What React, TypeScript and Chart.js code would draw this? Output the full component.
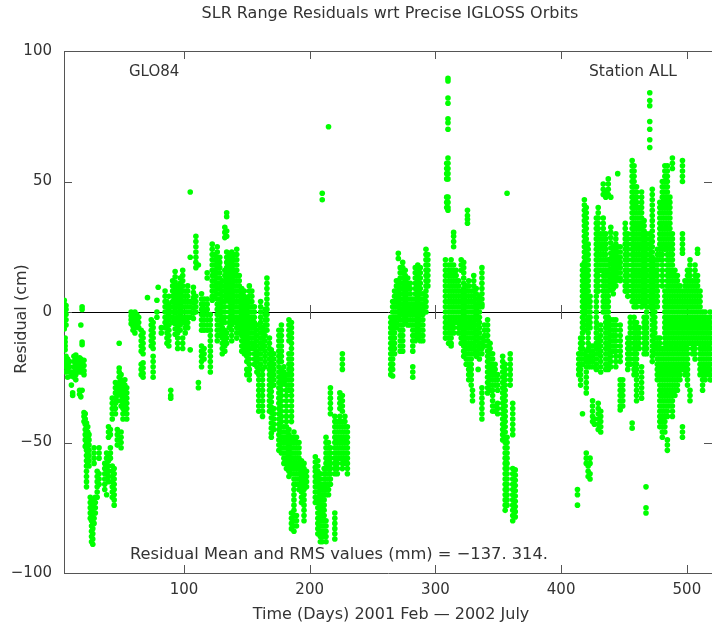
import React, { useEffect, useRef } from "react";
import { Chart, registerables } from "chart.js";

Chart.register(...registerables);

type Pass = [number, number[]];

const TITLE = "SLR Range Residuals wrt Precise IGLOSS Orbits";
const X_TITLE = "Time (Days) 2001 Feb \u2014 2002 July";
const Y_TITLE = "Residual (cm)";
const SAT_LABEL = "GLO84";
const STATION_LABEL = "Station ALL";
const STATS_LABEL = "Residual Mean and RMS values (mm) = \u2212137. 314.";

const X_MIN = 4.6;
const X_MAX = 520;
const Y_MIN = -100;
const Y_MAX = 100;
const X_TICKS = [100, 200, 300, 400, 500];
const Y_TICKS = [-100, -50, 0, 50, 100];

// Passes: [day, residuals (cm)]
const passesEarly2001: Pass[] = [
  [4.8, [4.5, 3, 1.5, 0, -1.5, -3, -4.5, -6.5]],
  [5.5, [-10, -11.5, -13, -14.5, -18, -19.5]],
  [6.2, [2.5, 1, -1, -3, -5, -17, -19, -21, -23]],
  [7.5, [-18, -20, -22.5, -25]],
  [9, [-19, -21, -23]],
  [10.5, [-23, -24.5, -28]],
  [11.5, [-31, -32]],
  [12.5, [-17, -19, -21, -23, -25]],
  [14, [-16.5, -18.5, -20.5, -22, -24, -26]],
  [15.5, [-18, -20, -22]],
  [17, [-17.5, -19.5, -21.5, -23, -30, -31.5]],
  [18, [-5, -18, -20, -22, -32.5]],
  [19, [2, 1, -11.5, -12.5, -19, -21, -23, -30]],
  [20.5, [-18.5, -20.5, -22.5, -24, -38.5, -40, -42]],
  [21.5, [-39, -41, -43, -45, -47, -49, -51.5]],
  [22.5, [-42.5, -44.5, -46.5, -48.5, -50.5, -53, -55, -57, -59, -61, -63, -65, -67]],
  [23.5, [-44, -46, -48, -50, -52, -54, -56, -58]],
  [24.5, [-47, -49, -51, -53, -55, -57, -59]],
  [25.5, [-71, -73, -75, -77, -79]],
  [26.5, [-72, -74, -76, -78, -80, -82, -84, -86, -88]],
  [27.5, [-75, -77, -79, -81, -83, -85, -87, -89]],
  [28.5, [-52, -54, -56, -58, -73, -75, -77, -79, -81]],
  [29.5, [-71, -73, -75, -77]],
  [31, [-61, -63, -65, -67, -69, -71]],
  [32.5, [-52, -54, -56, -62, -64, -66]],
  [37, [-58, -60, -62, -64, -66, -68]],
  [38.5, [-54, -56, -58, -60, -62, -70]],
  [40, [-44, -46, -48, -55, -57, -59, -61, -63, -65]],
  [41.5, [-45, -47, -52, -54, -56]],
  [43, [-33, -35, -37, -39, -41, -59, -61, -63, -65, -67, -69, -71]],
  [44.5, [-60, -62, -64, -66, -68, -70, -72, -74]],
  [45.5, [-27, -29, -31, -33, -35, -37, -39]],
  [47, [-28, -30, -32, -34, -45, -47, -49, -51]],
  [48.5, [-12, -21.5, -23, -25, -27, -29, -31]],
  [50, [-24, -26, -28, -30, -32, -34, -36, -46, -48, -50, -52]],
  [51.5, [-27, -29, -31, -33, -35, -37, -39, -41]],
  [53, [-26, -28, -30, -32, -34, -36, -38]],
  [54.5, [-29, -31, -33, -35, -37, -39, -41]],
];

const passesMid2001: Pass[] = [
  [58, [0, -1.5, -3, -4.5]],
  [59.5, [-1, -2.5, -4, -5.5, -7]],
  [61, [0, -2, -4, -6, -8]],
  [62.5, [-1, -3, -5]],
  [64, [-2, -4, -6]],
  [66, [-7, -9, -11, -13, -15, -20, -22, -24]],
  [67.5, [-8, -10, -12, -14, -16, -19.5, -21.5, -23.5, -25]],
  [71, [5.5]],
  [74, [-3, -5, -7, -9, -11, -13]],
  [75.5, [-4, -6, -8, -10, -12, -14, -17, -19, -21, -23, -25]],
  [78.5, [4.5, 0, -2]],
  [79.5, [9.5]],
  [82, [-6, -8]],
  [85, [8, 6, 4, 2, 0, -2, -4, -6]],
  [86.5, [4, 2, 0, -2, -4, -6, -8, -10, -12]],
  [88, [6, 3, 1, -1, -3, -5, -7, -9, -11, -13]],
  [89.5, [-30, -32, -33]],
  [91, [12, 10, 8, 6, 4, 2, 0, -2, -4]],
  [93, [15.5, 13.5, 11.5, 9.5, 7.5, 5.5, 3.5, 1.5, -0.5, -2.5, -4.5, -6.5, -8.5]],
  [95, [10, 8, 6, 4, 2, 0, -2, -4, -6, -8, -10, -12, -14]],
  [97, [13, 11, 9, 7, 5, 3, 1, -1, -3, -5, -7]],
  [99, [16, 14, 12, 10, 8, 6, 4, 2, 0, -2, -4, -10, -12, -14]],
  [101, [8, 6, 4, 2, 0, -2, -4, -6, -8]],
  [103, [10, 8, 6, 4, 2, 0, -2, -4, -6]],
  [105, [46, 21, 4, 2, 0, -2, -14.5]],
  [107.5, [9.5, 7.5, 5.5, 3.5, 1.5, -0.5, -2.5]],
  [109.5, [29, 27, 25, 23, 21, 19, 17, 6, 4, 2, 0]],
  [111.5, [18, -27, -29]],
  [114, [7, 5, 3, 1, -1, -3, -5, -7, -13, -15, -17, -19, -21]],
  [116, [5, 3, 1, -1, -3, -5, -7, -14, -16, -18]],
  [118.5, [15, 13, 5, 3, 1, -1, -3, -5, -7]],
  [121, [-1, -3, -5, -7, -9, -11, -13, -15, -17, -19, -21, -23]],
  [122.5, [26, 24, 22, 20, 18, 16, 14, 12, 10, 8, 6, 4.5]],
  [124.5, [22, 20, 18, 16, 14, 12, 10, 8, 6]],
  [126.5, [25, 23, 21, 19, 17, 15, 13, 11, 9, 7, 5, 3, 1, -1, -3, -5, -7, -9, -11]],
  [128.5, [21, 19, 17, 15, 13, 11, 9, 7, 5, 3, 1, -1, -3, -5, -7, -9]],
  [130.5, [12, 10, 8, 6, 4, 2, 0, -2, -4, -6, -8, -10, -12, -14, -16]],
  [132.5, [32.5, 30.5, 28.5, 16, 14, 12, 10, 8, 6, 4, 2, 0, -2, -4, -7, -9, -11, -13, -15]],
  [134, [38, 36.5, 31, 29, 23, 21, 19, 17, 15, 13, 11, 9, 7, 5, -8, -10, -12]],
  [136, [22, 20, 18, 16, 14, 12, 10, 8, 6, 4, 2, 0, -2, -4, -6]],
  [138, [23, 21, 19, 17, 15, 13, 11, 9, 7, 5, 3, 1, -1, -3, -5, -7, -9, -11]],
  [140, [22, 20, 18, 16, 14, 12, 10, 8, 6, 4, 2, 0, -2, -4]],
  [142, [24, 22, 20, 18, 16, 14, 12, 10, 8, 6, 4, 2, 0, -2, -4, -6, -8, -10]],
  [144, [14, 12, 10, 8, 6, 4, 2, 0, -2, -4, -6, -8]],
  [146, [9, 7, 5, 3, 1, -1, -3, -5, -7, -9, -11, -13, -15]],
  [148, [8, 6, 4, 2, 0, -2, -4, -6, -8, -10, -12, -14, -16]],
  [150, [5, 3, 1, -1, -3, -5, -7, -9, -11, -13, -15, -17, -19, -22, -24]],
  [152, [10, 8, 6, 4, 2, 0, -2, -4, -6, -8, -10, -12, -14, -16, -18, -20, -22, -24, -26]],
  [154, [8, 6, 4, 2, 0, -2, -4, -6, -8, -10, -12, -14]],
  [156, [2, 0, -2, -4, -6, -8, -10, -12, -14, -16, -18, -20]],
  [158, [-5, -7, -9, -11, -13, -15, -17, -19, -21, -23]],
  [159.5, [-22, -24, -26, -28, -30, -32, -34, -36, -38]],
  [161, [4, 2, 0, -2, -4, -6, -8, -10, -12, -14, -16, -18, -20]],
  [162.5, [-6, -8, -10, -12, -14, -22, -24, -26, -28, -30, -32, -34, -36, -38, -40]],
  [164.5, [1, -1, -3, -5, -7, -9, -11, -13, -15, -17, -19, -21]],
  [166, [13, 11, 9, 7, 5, 3, 1, -1, -3, -5, -7]],
  [168, [-10, -12, -14, -16, -18, -20, -22, -24, -26, -28, -30, -32, -34, -36, -38]],
  [169.5, [-14.5, -16.5, -18.5, -20.5, -22.5, -24.5, -26.5, -28.5, -30.5, -32.5, -34.5, -36.5, -38.5, -40.5, -42.5, -44.5, -46.5, -48]],
  [171.5, [-16, -18, -20, -22, -24, -26, -28, -37, -39, -41, -43, -45]],
];

const passesLate2001: Pass[] = [
  [175.5, [-7, -9, -11, -13, -15, -17, -19, -21, -23, -25, -27, -29, -31, -33, -35, -37, -39, -41, -43, -45, -47, -49, -51, -53]],
  [177.5, [-5, -7, -9, -11, -13, -15, -17, -19, -22, -24, -26, -28, -30, -32, -34, -36, -38, -40, -42, -44, -46, -48, -50, -52, -54]],
  [179.5, [-21, -23, -25, -27, -44, -46, -48, -50, -52, -54, -56, -58]],
  [181.5, [-24, -26, -28, -30, -32, -34, -36, -38, -40, -42, -44, -46, -48, -50, -52, -54, -56, -58, -60]],
  [183.5, [-3, -5, -7, -9, -11, -16, -18, -20, -22, -24, -26, -28, -30, -45, -47, -49, -51, -53, -55, -57, -59, -61, -63]],
  [185.5, [-4, -6, -8, -10, -12, -14, -16, -18, -20, -22, -24, -26, -28, -30, -32, -34, -36, -38, -40, -42, -48, -50, -52, -54, -56, -58, -60, -62, -77, -79, -81, -83]],
  [187.5, [-46, -48, -50, -52, -54, -56, -58, -60, -62, -64, -66, -68, -70, -72, -74, -76, -78, -80, -82, -84]],
  [189.5, [-48, -50, -52, -54, -56, -58, -60, -62, -64, -66, -78, -80, -82]],
  [191.5, [-50, -52, -54, -56, -58, -60, -62, -64, -66, -68]],
  [193.5, [-57, -59, -61, -63, -65, -67, -69, -71, -73]],
  [195.5, [-58, -60, -62, -64, -66, -68, -70, -72, -74, -76, -78, -80]],
  [197.5, [-61, -63, -65, -67]],
  [204.5, [-55.5, -57.5, -59.5, -61, -63, -65, -67, -69, -71, -73]],
  [206.5, [-57, -59, -61, -63, -65, -67, -69, -71, -73, -75, -77, -79, -81, -83, -85]],
  [208.5, [-62, -64, -66, -68, -70, -72, -74, -76, -78, -80, -82, -84, -86, -88]],
  [210, [45.5, 43, -66, -68, -70, -72, -74, -76, -78, -80, -82, -84, -86, -88]],
  [211.5, [-60, -62, -64, -66, -68, -70, -72, -74, -76, -78, -80, -82, -84, -86]],
  [213, [-48, -50, -52, -54, -56, -58, -60, -62, -64, -66, -68, -70, -80, -82, -84, -86, -88]],
  [215, [71, -50, -52, -54, -56, -58, -60, -62, -64, -66, -68, -70]],
  [216.5, [-29, -31, -33, -35, -37, -39, -52, -54, -56, -58, -60, -62, -64, -66]],
  [220, [-40, -42, -44, -46, -48, -50, -52, -54, -56, -58, -60, -62, -77, -79, -81, -83, -85, -87]],
  [222, [-42, -44, -46, -48, -50, -52, -54, -56, -58, -60, -62]],
  [224, [-31, -33, -35, -37, -40, -42, -44, -46, -48, -50, -52, -54, -56]],
  [226, [-16, -18, -20, -22, -32, -34, -36, -38, -42, -44, -46, -48, -50, -52, -54, -56, -58, -60]],
  [228, [-40, -42, -44, -46, -48, -50, -52, -54, -56, -58]],
  [230, [-44, -46, -48, -50, -52, -54, -56, -58, -60, -62]],
];

const passesEarly2002: Pass[] = [
  [264.5, [-2, -4, -6, -8, -10, -12, -14, -16, -18, -20, -22, -24]],
  [266, [4, 2, 0, -2, -4, -6, -8, -10, -12, -14, -16, -18, -20, -22, -24.5]],
  [267.5, [8, 6, 4, 2, 0, -2, -4, -6, -8, -10, -12, -14, -16]],
  [269, [12, 10, 8, 6, 4, 2, 0, -2, -4, -6]],
  [270.5, [22.5, 20.5, 12, 10, 8, 6, 4, 2, 0, -2]],
  [272, [17, 15, 13, 11, 9, 7, 5, 3, 1, -1, -3, -5, -7, -9, -11, -13, -15]],
  [274, [19, 17, 15, 13, 11, 9, 7, 5, 3, 1, -1, -3, -5, -7, -9, -11, -13, -15]],
  [276, [16, 14, 12, 10, 8, 6, 4, 2, 0, -2, -4]],
  [278, [13, 11, 9, 7, 5, 3, 1, -1, -3, -5]],
  [280, [11, 9, 7, 5, 3, 1, -1, -3, -5]],
  [282, [5, 3, 1, -1, -3, -5, -7, -9, -11, -13, -15, -21, -23, -25]],
  [284, [17, 15, 13, 11, 9, 7, 5, 3, 1, -1, -3, -5, -7, -9, -11]],
  [286, [18, 16, 14, 12, 10, 8, 6, 4, 2, 0, -2, -4, -6, -8, -10]],
  [288, [17, 15, 13, 11, 9, 7, 5, 3, 1, -1, -3, -5, -7, -9, -11]],
  [290, [7, 5, 3, 1, -1, -3, -5, -7, -9, -11]],
  [292.5, [24, 22, 20, 18, 16, 14, 12, 10, 8, 6, 4, 2, 0]],
  [294, [22, 20, 18, 16, 14, 12, 10]],
  [308, [20, 18, 16, 14, 12, 10, 8, 6, 4, 2, 0, -2, -4, -6, -8, -10]],
  [309, [57, 55, 53, 51, 44, 42, 40]],
  [310, [89.5, 88.5, 82, 80, 74, 72.5, 70, 59, 57, 55, 53, 51, 44, 42, 40, 39]],
  [310.5, [18, 16, 14, 12, 10, 8, 6, 4, 2, 0, -2, -4, -6, -8, -10, -12]],
  [312.5, [20, 18, 16, 14, 12, 10, 8, 6, 4, 2, 0, -2, -4, -6, -8, -10, -12, -13]],
  [314.5, [30.5, 29, 27, 25, 18, 16, 14, 12, 10, 8, 6, 4, 2, 0, -2, -4, -6, -8]],
  [316.5, [16, 14, 12, 10, 8, 6, 4, 2, 0, -2, -4]],
  [318.5, [12, 10, 8, 6, 4, 2, 0, -2, -4, -6, -8]],
  [320.5, [20, 18, 16, 8, 6, 4, 2, 0, -2, -4, -6, -8, -10, -12]],
  [322.5, [19, 17, 15, 13, 11, 9, 7, 5, 3, 1, -1, -3, -5, -7, -9, -11, -13, -15, -17]],
  [324.5, [10, 8, 6, 4, 2, 0, -2, -4, -6, -8, -10, -12, -14, -16, -18, -20]],
  [325.5, [39, 37, 35.5, 34]],
  [326.5, [12, 10, 8, 6, 4, 2, 0, -2, -4, -6, -8, -10, -12, -14, -16, -18, -20, -22, -24, -26]],
  [328.5, [8, 6, 4, 2, 0, -2, -4, -6, -8, -10, -12, -14, -16, -18, -20, -22, -24, -26, -28]],
  [329.5, [-30, -32, -34]],
  [330.5, [14, 12, 10, 8, 6, 4, 2, 0, -2, -4, -6, -8, -10, -12, -14, -16]],
  [332.5, [9, 7, 5, 3, 1, -1, -3, -5, -7, -9, -11, -13, -15, -17]],
  [334, [-22]],
  [335, [6, 4, 2, 0, -2, -4, -6, -8, -10, -12, -14, -16, -18]],
  [337, [17, 15, 13, 11, 9, 7, 5, 3, 2, -10, -12, -14, -16, -29, -31, -33, -35, -37, -39, -41]],
  [339, [-5, -7, -9, -11, -13]],
  [341.5, [-3, -5, -7, -9, -11, -13, -15, -17, -19, -21, -23, -25, -27, -29, -31]],
  [343.5, [-12, -14, -16, -18, -20, -22, -24, -26, -28, -30]],
  [345.5, [-16, -18, -20, -22, -24, -26, -28, -30, -32, -34, -36, -38]],
  [347.5, [-20, -22, -24, -26, -28, -36, -38]],
  [349.5, [-24, -26, -28, -30, -35, -37, -39]],
  [353.5, [-17, -19, -21, -23, -25, -27, -29, -31, -33, -35, -37, -39, -41, -43, -45, -47, -49]],
  [355.5, [-20, -22, -24, -26, -28, -30, -32, -34, -36, -38, -40, -42, -44, -46, -48, -50, -52, -54, -56, -58, -60, -62, -64, -66, -68, -70, -72, -74, -76]],
  [357, [45.5, -48, -50, -52, -54, -56, -58, -60, -62, -64, -66, -68, -70, -72, -74]],
  [359.5, [-16, -18, -20, -22, -24, -26, -28]],
  [361.5, [-35, -37, -39, -41, -43, -45, -47, -60, -62, -64, -66, -68, -70, -72, -74, -76, -78, -80]],
  [363.5, [-60.5, -62.5, -64.5, -66.5, -68.5, -70.5, -72.5, -74.5, -76.5, -78.5]],
];

const passesMid2002: Pass[] = [
  [413, [-68, -70, -74]],
  [414, [-16, -18, -20, -22, -24]],
  [415.5, [-10, -12, -14, -16, -18, -20, -22, -24, -26, -28]],
  [417, [18, 16, 14, 12, 10, 8, 6, 4, 2, 0, -2, -4, -6, -8, -10, -12, -14, -16, -18, -20, -39]],
  [418.5, [43, 41, 39, 37, 35, 33, 31, 29, 27, 25, 23, 21, 19, 17, 15, 13, 11, 9, 7, 5, 3, 1, -1, -3, -5, -7]],
  [420, [40, 38, 36, 34, 32, 30, 28, 26, 24, 22, 20, 18, 16, 14, 12, 10, 8, 6, 4, 2, -15, -17, -19, -21, -23, -25, -27, -29, -31, -54, -56, -58]],
  [421.5, [26, 24, 22, 20, 18, 16, 14, 12, 10, 8, 6, 4, 2, 0, -2, -4, -6, -8, -10, -12, -14, -17, -19, -21, -59, -61, -63]],
  [423, [6, 4, 2, 0, -2, -4, -6, -13, -15, -17, -19, -21, -56, -58, -62, -64]],
  [425, [-13, -15, -17, -19, -21, -34, -36, -38, -40, -42]],
  [426.5, [-41, -43]],
  [428, [36, 34, 32, 30, 28, 26, 24, 22, 20, 18, 16, 14, 12, 10, 8, 6, 4, 2, 0, -2, -4, -6, -8, -10, -12, -14, -16, -18, -20, -22]],
  [429.5, [40, 38, 36, 34, 32, 30, 28, 26, 24, 22, 20, 18, 16, 14, 12, 10, 8, -10, -12, -14, -16, -35, -37, -39, -41, -43, -45]],
  [431.5, [30, 28, 26, 24, 22, 20, 18, 16, -5, -7, -9, -11, -13, -15, -17, -19, -21, -23, -38, -40, -42, -44, -46]],
  [433.5, [49, 47, 45, 36, 34, 32, 30, 28, 26, 24, 22, 20, 18, 16, 14, 12, 10, 8, 6, 4, 2, 0]],
  [435.5, [46, 44, 30, 28, 26, 24, 22, 20, 18, 16, 14, 12, 10, 8, 6, 4, 2, 0, -2, -4, -6, -8, -10, -12, -14, -16, -18, -20, -22]],
  [437.5, [51, 49, 47, 45, 20, 18, 16, 14, 12, 10, 8, 6, 4, 2, 0, -2, -4, -6, -8, -10, -12, -14, -16, -18, -20, -22]],
  [439.5, [44, 32.5, 30.5, 28.5, 26.5, 24.5, 22.5, 20.5, 18.5, 16.5, 14.5, 12.5, 10.5, 8.5, -3, -5, -7, -9, -11, -13, -15, -17, -19, -21]],
  [441.5, [25, 23, 21, 19, 17, 15, 13, 11, 9, 7, -3, -5, -7, -9, -11, -13, -15]],
  [443.5, [30, 28, 26, 24, 22, 20, 18, 16, 14, 12, 10, -3, -5, -7, -9, -11, -13, -15, -17, -19, -21]],
  [445, [53, 25, 23, 21, 19, 17, 15, 13]],
  [447, [25, 23, 21, 19, 17, 15, 13, 12, -5, -7, -9, -11, -13, -15, -17, -19, -26, -28, -30, -32, -34, -36, -37.5]],
  [449, [-26, -28, -30, -32, -34, -36]],
  [451, [34, 32, 30, 28, 26, 24, 22, 20, 18, 16, 14, 12, 10, 8]],
  [453, [30, 28, 26, 24, 22, 20, 18, 16, 14, 12, 10, 8, 6, -10, -12, -14, -16, -18, -20, -22]],
  [455, [-2, -4, -6, -8, -10, -12, -14, -16, -18, -20]],
  [456.5, [58, 56, 54, 52, 50, 48, 46, 44, 42, 40, 38, 36, 34, 32, 30, 28, 26, 24, 22, 20, 18, 16, 14, 12, 10, 8, 6, 4, -42.5, -44.5]],
  [458, [56, 54, 52, 50, 48, 46, 44, 42, 40, 38, 36, 34, 32, 30, 28, 26, 24, 22, 20, 18, 16, 14, 12, 10, 8, 6, 4, 2, -2, -4, -6, -8, -10, -12, -14, -16, -18, -20, -22, -24]],
  [460, [48, 46, 44, 42, 40, 38, 36, 34, 32, 30, 28, 26, 24, 22, 20, 18, 16, 14, 12, 10, 8, 6, 4, 2, -4, -6, -8, -10, -12, -14, -16, -18, -20, -22, -24, -26, -28, -30, -32, -34]],
  [462, [40, 38, 36, 34, 32, 30, 28, 26, 24, 22, 20, 18, 16, 14, 12, 10, 8, 6, 4, -6, -8, -10, -12, -14]],
  [464, [46, 44, 42, 40, 38, 36, 34, 32, 30, 28, 26, 24, 22, 20, 18, 16, 14, 12, 10, 8, 6, 4, 2, -21, -23, -25, -27, -29, -31, -33]],
  [466, [35, 33, 31, 29, 27, 25, 23, 21, 19, 17, 15, 13, 11, 9, 7, 5, 3, -2, -4, -6, -8, -10, -12, -14, -16]],
  [467.5, [-67, -75, -77]],
  [468, [30, 28, 26, 24, 22, 20, 18, 16, 14, 12, 10, 8, 6, 4, 2, 0, -2, -4, -6, -8, -10, -12, -14, -16]],
  [470.5, [84, 81, 79, 73, 70, 66, 63, 30, 28, 26, 24, 22, 20, 18, 16, 14, 12, 10, 8, 6, 4, 2]],
  [472.5, [47, 45, 43, 41, 39, 37, 35, 33, 31, 29, 27, 25, 23, 21, 19, 17, 15, 13, 11, 9, 7, 5, 3, 1, -1, -3, -5, -7, -9, -11, -13, -15, -17, -19]],
  [474.5, [20, 18, 16, 14, 12, 10, 8, 6, 4, 2, 0, -2, -4, -6, -8, -10, -12, -14, -16]],
  [476.5, [24, 22, 20, 18, 16, 14, 12, 10, 8, 6, 4, 2, -10, -12, -14, -16, -18, -20, -22, -24, -26]],
  [478.5, [42, 40, 38, 36, 34, 32, 30, 28, 26, 24, 22, 20, -10, -12, -14, -16, -18, -20, -22, -24, -26, -28, -30, -32, -34, -36, -38, -40, -42, -44]],
  [480.5, [50, 48, 46, 44, 42, 40, 38, 36, 34, 32, 30, 28, 26, 24, 22, 20, 18, 16, 14, 12, 10, -14, -16, -18, -20, -22, -24, -26, -28, -30, -32, -34, -36, -38, -40, -42, -44, -46, -48]],
  [482.5, [56, 54, 52, 50, 48, 46, 44, 42, 40, 38, 36, 34, 32, 30, 28, 26, 24, 8, 6, 4, 2, 0, -2, -4, -6, -8, -10, -12, -14, -16, -18, -20, -22, -24, -26, -28, -30, -32, -34, -36, -38, -40, -42, -44, -46]],
  [484.5, [56, 54, 52, 50, 48, 46, 44, 42, 40, 38, 36, 34, 32, 30, 28, 26, 24, 22, 20, 18, 16, 14, 12, 10, 8, 6, 4, 2, 0, -2, -4, -6, -8, -10, -12, -14, -16, -18, -20, -22, -24, -26, -28, -30, -32, -34, -36, -38, -40, -49, -51, -53]],
  [486.5, [44, 42, 40, 38, 36, 34, 32, 30, 28, 26, 24, 22, 20, 18, 16, 14, 12, 10, 8, 6, 4, 2, 0, -2, -4, -6, -8, -10, -12, -14, -16, -18, -20, -22, -24, -26, -28, -30, -32, -34, -36]],
  [488.5, [59, 57, 55, 30, 28, 26, 24, 22, 20, 18, 16, 14, 12, 10, 8, 6, 4, 2, 0, -2, -4, -6, -8, -10, -12, -14, -16, -18, -20, -22, -24, -26, -28, -30, -32, -34, -36, -38, -40]],
  [490.5, [16, 14, 12, 10, 8, 6, 4, 2, 0, -2, -4, -6, -8, -10, -12, -14, -16, -18, -20, -22, -24, -26, -28, -30, -32]],
  [492.5, [14, 12, 10, 8, 6, 4, 2, 0, -2, -4, -6, -8, -10, -12, -14, -16, -18, -20, -22, -24, -26, -28, -30]],
  [494.5, [10, 8, 6, 4, 2, 0, -2, -4, -6, -8, -10, -12, -14, -16, -18, -20, -22, -24, -26]],
  [496.5, [58, 56, 54, 52, 50, 30, 28, 26, 24, 22.5, 8, 6, 4, 2, 0, -2, -4, -6, -8, -10, -12, -14, -16, -18, -20, -22, -44, -46, -48]],
  [498.5, [12, 10, 8, 6, 4, 2, 0, -2, -4, -6, -8, -10, -12, -14, -16, -18, -20, -22, -24]],
  [500.5, [16, 14, 12, 10, 8, 6, 4, 2, 0, -2, -4, -6, -8, -10, -12, -14, -16, -18, -20, -22, -24, -26, -28]],
  [502.5, [20, 18, 16, 14, 12, 10, 8, 6, 4, 2, 0, -2, -4, -6, -8, -10, -12, -30, -32, -34]],
  [504.5, [12, 10, 8, 6, 4, 2, 0, -2, -4, -6, -8, -10, -12, -14, -16]],
  [506.5, [18, 16, 14, 12, 10, 8, 6, 4, 2, 0, -2, -4, -6, -8, -10, -12, -14, -16, -18]],
  [508.5, [24, 22.5, 14, 12, 10, 8, 6, 4, 2, 0, -2, -4, -6, -8, -10, -12]],
  [510.5, [8, 6, 4, 2, 0, -2, -4, -6, -8, -10, -12, -14, -16, -18, -20, -22, -24]],
  [512.5, [0, -2, -4, -6, -8, -10, -12, -14, -16, -18, -20, -22, -24, -26, -28, -30]],
  [514.5, [0, -2, -4, -6, -8, -10, -12, -14, -16, -18, -20, -22, -24, -26]],
  [516.5, [-2, -4, -6, -8, -10, -12, -14, -16, -18, -20, -22, -24]],
  [518.5, [0, -2, -4, -6, -8, -10, -12, -14, -16, -18, -20, -22, -24, -26]],
];

const ALL_PASSES: Pass[] = [
  ...passesEarly2001,
  ...passesMid2001,
  ...passesLate2001,
  ...passesEarly2002,
  ...passesMid2002,
];

const FONT = '"DejaVu Sans", "Liberation Sans", sans-serif';
const TEXT_COLOR = "#333";
const AXIS_COLOR = "#555";
const POINT_COLOR = "#00ff00";

const fmtMinus = (v: number | string) => String(v).replace("-", "\u2212");

const frameAndTextPlugin = {
  id: "frameAndText",
  beforeDatasetsDraw(chart: any) {
    const { ctx, chartArea: a, scales } = chart;
    const xs = scales.x;
    const ys = scales.y;
    const y0 = ys.getPixelForValue(0);
    ctx.save();
    ctx.strokeStyle = AXIS_COLOR;
    ctx.lineWidth = 1;
    ctx.beginPath();
    ctx.moveTo(a.left, a.top + 0.5);
    ctx.lineTo(a.right, a.top + 0.5);
    X_TICKS.forEach((v) => {
      const px = Math.round(xs.getPixelForValue(v)) + 0.5;
      ctx.moveTo(px, a.top);
      ctx.lineTo(px, a.top + 8);
      ctx.moveTo(px, a.bottom);
      ctx.lineTo(px, a.bottom - 8);
      ctx.moveTo(px, y0 - 7);
      ctx.lineTo(px, y0 + 7);
    });
    Y_TICKS.filter((v) => v > Y_MIN && v < Y_MAX).forEach((v) => {
      const py = Math.round(ys.getPixelForValue(v)) + 0.5;
      ctx.moveTo(a.left, py);
      ctx.lineTo(a.left + 8, py);
      ctx.moveTo(a.right, py);
      ctx.lineTo(a.right - 8, py);
    });
    ctx.stroke();
    ctx.restore();
  },
  afterDraw(chart: any) {
    const { ctx, chartArea: a } = chart;
    ctx.save();
    ctx.fillStyle = TEXT_COLOR;
    ctx.textBaseline = "middle";
    ctx.textAlign = "center";
    ctx.font = `16px ${FONT}`;
    ctx.fillText(TITLE, (a.left + a.right) / 2 + 2, 14);
    ctx.fillText(X_TITLE, (a.left + a.right) / 2 + 3, 615);
    ctx.textAlign = "left";
    ctx.font = `16.3px ${FONT}`;
    ctx.fillText(STATS_LABEL, 130, 555);
    ctx.font = `15px ${FONT}`;
    ctx.fillText(SAT_LABEL, 129, 72);
    ctx.font = `15.5px ${FONT}`;
    ctx.fillText(STATION_LABEL, 589, 72);
    ctx.font = `16px ${FONT}`;
    ctx.translate(22, 319);
    ctx.rotate(-Math.PI / 2);
    ctx.textAlign = "center";
    ctx.fillText(Y_TITLE, 0, 0);
    ctx.restore();
  },
};

export default function App() {
  const canvasRef = useRef<HTMLCanvasElement | null>(null);

  useEffect(() => {
    const canvas = canvasRef.current;
    if (!canvas) return;
    const points = ALL_PASSES.flatMap(([day, vals]) =>
      vals.map((v) => ({ x: day, y: v }))
    );
    const chart = new Chart(canvas, {
      type: "scatter",
      data: {
        datasets: [
          {
            data: points,
            pointRadius: 2.8,
            pointHoverRadius: 2.8,
            pointStyle: "circle",
            backgroundColor: POINT_COLOR,
            borderWidth: 0,
          },
        ],
      },
      options: {
        responsive: false,
        maintainAspectRatio: false,
        devicePixelRatio: 1,
        animation: false,
        events: [],
        layout: { autoPadding: false, padding: { top: 51, left: 0, right: 0, bottom: 0 } },
        plugins: {
          legend: { display: false },
          tooltip: { enabled: false },
          title: { display: false },
        },
        scales: {
          x: {
            type: "linear",
            min: X_MIN,
            max: X_MAX,
            afterBuildTicks: (scale: any) => {
              scale.ticks = X_TICKS.map((v) => ({ value: v }));
            },
            afterFit: (scale: any) => {
              scale.height = 61;
              scale.paddingLeft = 0;
              scale.paddingRight = 0;
            },
            grid: { display: false, drawTicks: false },
            border: { display: true, color: AXIS_COLOR, width: 1 },
            ticks: {
              color: TEXT_COLOR,
              font: { family: FONT, size: 15 },
              padding: 8,
              maxRotation: 0,
              autoSkip: false,
              callback: (v: any) => fmtMinus(v),
            },
          },
          y: {
            type: "linear",
            min: Y_MIN,
            max: Y_MAX,
            afterBuildTicks: (scale: any) => {
              scale.ticks = Y_TICKS.map((v) => ({ value: v }));
            },
            afterFit: (scale: any) => {
              scale.width = 64;
              scale.paddingTop = 0;
              scale.paddingBottom = 0;
            },
            grid: {
              display: true,
              drawTicks: false,
              color: (c: any) => (c.tick && c.tick.value === 0 ? "#000" : "rgba(0,0,0,0)"),
              lineWidth: 1,
            },
            border: { display: true, color: AXIS_COLOR, width: 1 },
            ticks: {
              color: TEXT_COLOR,
              font: { family: FONT, size: 15 },
              padding: 12,
              autoSkip: false,
              callback: (v: any) => fmtMinus(v),
            },
          },
        },
      },
      plugins: [frameAndTextPlugin],
    });
    return () => chart.destroy();
  }, []);

  return (
    <div style={{ position: "absolute", left: 0, top: 0, width: 712, height: 634, background: "#fff" }}>
      <canvas ref={canvasRef} width={712} height={634} style={{ display: "block" }} />
    </div>
  );
}
